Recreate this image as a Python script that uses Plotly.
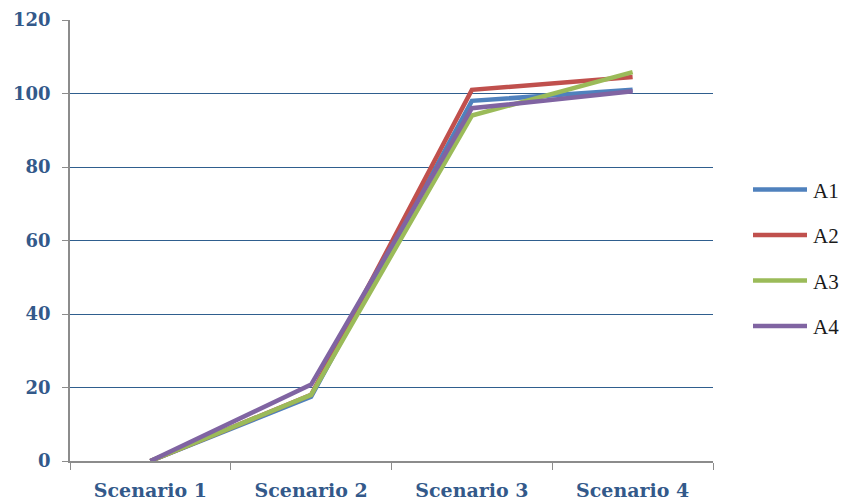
import plotly.graph_objects as go

categories = ["Scenario 1", "Scenario 2", "Scenario 3", "Scenario 4"]
series_names = ["A1", "A2", "A3", "A4"]
a1 = [0, 17.5, 98, 101]
a2 = [0, 18, 101, 104.5]
a3 = [0, 18, 94, 105.8]
a4 = [0, 20.8, 96, 100.6]
colors = ["#4F81BD", "#C0504D", "#9BBB59", "#8064A2"]

fig = go.Figure()
for name, vals, col in zip(series_names, [a1, a2, a3, a4], colors):
    fig.add_trace(go.Scatter(x=categories, y=vals, name=name, mode="lines",
                             line=dict(color=col, width=4.5), showlegend=False))

# manual legend (long line samples like the original)
L, R, T, B = 70, 130, 20, 40
W, H = 843, 501
pw, ph = W - L - R, H - T - B
def px(x):
    return (x - L) / pw
def py(y):
    return (H - B - y) / ph
for i, (name, col) in enumerate(zip(series_names, colors)):
    yy = 189.5 + i * 45.5
    fig.add_shape(type="line", xref="paper", yref="paper",
                  x0=px(753), x1=px(807), y0=py(yy), y1=py(yy),
                  line=dict(color=col, width=4.5))
    fig.add_annotation(xref="paper", yref="paper", x=px(811), y=py(yy + 1),
                       text=name, showarrow=False, xanchor="left", yanchor="middle",
                       font=dict(family="Liberation Serif", size=21, color="#1a1a1a"))

tick_font = dict(family="DejaVu Serif", size=19, color="#33598A", weight="bold")
fig.update_layout(
    width=W, height=H,
    margin=dict(l=L, r=R, t=T, b=B, autoexpand=False),
    plot_bgcolor="white", paper_bgcolor="white",
    showlegend=False,
    xaxis=dict(type="category", tickson="boundaries", ticks="outside", ticklen=7,
               tickcolor="#8C8C8C", showline=True, linecolor="#8C8C8C", linewidth=1.5,
               showgrid=False, tickfont=tick_font, ticklabelstandoff=11,
               range=[-0.5, 3.5], automargin=False),
    yaxis=dict(range=[0, 120], dtick=20, ticks="outside", ticklen=6, tickcolor="#8C8C8C",
               showline=True, linecolor="#8C8C8C", linewidth=1.5,
               showgrid=True, gridcolor="#2F5E8E", gridwidth=1.3, zeroline=False,
               tickfont=dict(family="DejaVu Serif", size=18, color="#33598A", weight="bold"),
               ticklabelstandoff=8, automargin=False),
)
fig.write_html("out.html")
